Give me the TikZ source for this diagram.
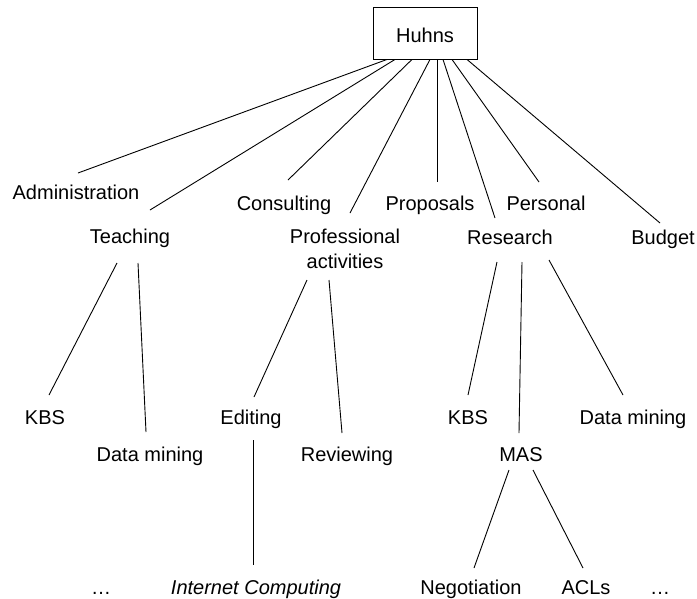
\documentclass[tikz,border=0pt]{standalone}
\usepackage{fontspec}
\setmainfont{Liberation Sans}
\begin{document}
\begin{tikzpicture}[x=1pt,y=-1pt,
  every node/.style={font=\fontsize{20}{25}\selectfont},
  lbl/.style={inner sep=0pt,anchor=base},
  rootbox/.style={draw,line width=0.9pt,minimum width=104pt,minimum height=52pt,
    text height=19pt,text depth=0pt},
  link/.style={line width=0.9pt}]
\useasboundingbox (0,0) rectangle (697,598);

% root
\node[rootbox] (root) at (425,33) {Huhns};

% first level
\node[lbl] (admin) at (76,199) {Administration};
\node[lbl] (teach) at (130,243.5) {Teaching};
\node[lbl] (cons)  at (284,210) {Consulting};
% base of this two-line node sits on its last line
\node[lbl,align=center] (prof) at (345,268) {Professional\\activities};
\node[lbl] (prop)  at (430,210) {Proposals};
\node[lbl] (pers)  at (546,210) {Personal};
\node[lbl] (res)   at (510,244) {Research};
\node[lbl] (budg)  at (663,244) {Budget};

% second level
\node[lbl] (kbsA) at (45,424)  {KBS};
\node[lbl] (dmA)  at (150,461) {Data mining};
\node[lbl] (edit) at (251,424) {Editing};
\node[lbl] (rev)  at (347,461) {Reviewing};
\node[lbl] (kbsB) at (468,424) {KBS};
\node[lbl] (mas)  at (521,461) {MAS};
\node[lbl] (dmB)  at (633,424) {Data mining};

% third level
\node[lbl] (dotsA) at (101,594) {…};
\node[lbl] (ic)    at (256,594) {\itshape Internet Computing};
\node[lbl] (neg)   at (471,594) {Negotiation};
\node[lbl] (acl)   at (586,594) {ACLs};
\node[lbl] (dotsB) at (660,594) {…};

% connectors from the root
\draw[link] ([xshift=-38pt]root.south) -- ([shift={(2,-26)}]admin.base);
\draw[link] ([xshift=-30pt]root.south) -- ([shift={(20,-33.5)}]teach.base);
\draw[link] ([xshift=-13pt]root.south) -- ([shift={(4,-30)}]cons.base);
\draw[link] ([xshift=5pt]root.south)   -- ([shift={(5,-55)}]prof.base);
\draw[link] ([xshift=12pt]root.south)  -- ([shift={(7,-28)}]prop.base);
\draw[link] ([xshift=18pt]root.south)  -- ([shift={(-15,-26)}]res.base);
\draw[link] ([xshift=27pt]root.south)  -- ([shift={(-7,-28)}]pers.base);
\draw[link] ([xshift=42pt]root.south)  -- ([shift={(-3,-21)}]budg.base);

% teaching
\draw[link] ([shift={(-13,19.5)}]teach.base) -- ([shift={(4,-29)}]kbsA.base);
\draw[link] ([shift={(8,19.5)}]teach.base)   -- ([shift={(-4,-29)}]dmA.base);

% professional activities
\draw[link] ([shift={(-38,12)}]prof.base) -- ([shift={(3,-27)}]edit.base);
\draw[link] ([shift={(-16,12)}]prof.base) -- ([shift={(-5,-28)}]rev.base);
\draw[link] ([shift={(2,16)}]edit.base)   -- ([shift={(-3,-29)}]ic.base);

% research
\draw[link] ([shift={(-13,18)}]res.base) -- ([shift={(0,-29)}]kbsB.base);
\draw[link] ([shift={(12,18)}]res.base)  -- ([shift={(-2,-28)}]mas.base);
\draw[link] ([shift={(39,16)}]res.base)  -- ([shift={(-10,-29)}]dmB.base);

% MAS
\draw[link] ([shift={(-12,9)}]mas.base) -- ([shift={(3,-26)}]neg.base);
\draw[link] ([shift={(12,9)}]mas.base)  -- ([shift={(-3,-26)}]acl.base);
\end{tikzpicture}
\end{document}
